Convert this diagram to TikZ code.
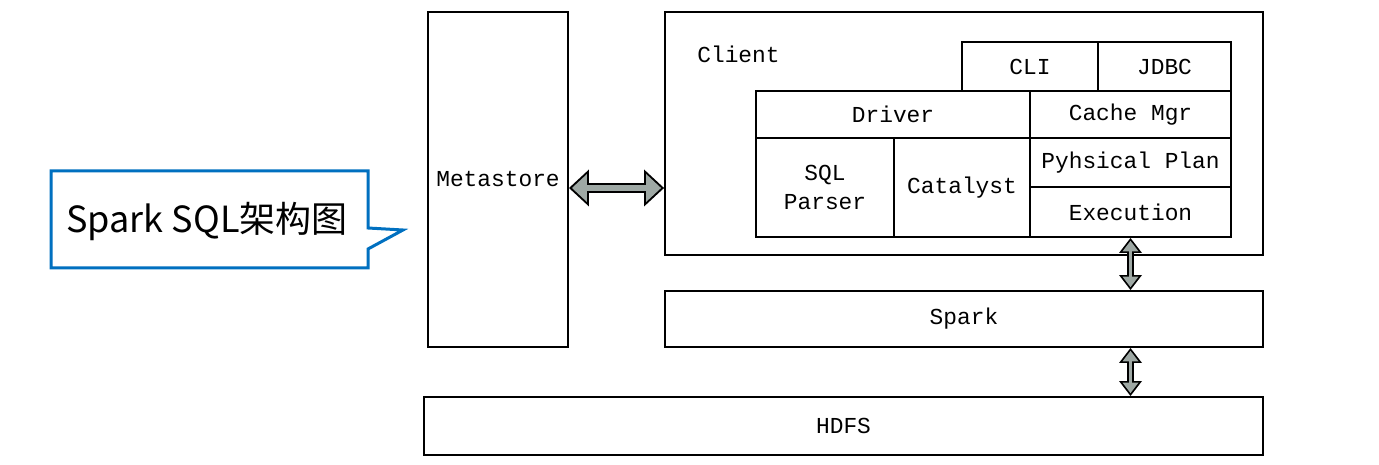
\documentclass[tikz,border=0pt]{standalone}
\usepackage{fontspec}
\setmonofont{Liberation Mono}
\newfontfamily\cjkfont{Noto Sans CJK SC}
\usetikzlibrary{arrows.meta}
\definecolor{calloutblue}{RGB}{0,112,192}
\definecolor{arrowgray}{RGB}{158,168,164}

\begin{document}
\begin{tikzpicture}[x=0.02cm, y=-0.02cm]
\tikzset{ box/.style={draw, line width=0.04cm, inner sep=0pt, align=center,
                      font=\ttfamily\fontsize{13pt}{16pt}\selectfont},
          bigarrow/.style={draw=black, line width=0.19cm,
                      {Triangle[width=0.74cm,length=0.4cm,line width=0pt]}-{Triangle[width=0.74cm,length=0.4cm,line width=0pt]},
                      postaction={draw=arrowgray, line width=0.11cm, shorten <=0.06cm, shorten >=0.06cm,
                      {Triangle[width=0.56cm,length=0.3cm,line width=0pt]}-{Triangle[width=0.56cm,length=0.3cm,line width=0pt]}}},
          smallarrow/.style={draw=black, line width=0.14cm,
                      {Triangle[width=0.46cm,length=0.3cm,line width=0pt]}-{Triangle[width=0.46cm,length=0.3cm,line width=0pt]},
                      postaction={draw=arrowgray, line width=0.07cm, shorten <=0.058cm, shorten >=0.058cm,
                      {Triangle[width=0.32cm,length=0.21cm,line width=0pt]}-{Triangle[width=0.32cm,length=0.21cm,line width=0pt]}}},
}

\useasboundingbox (0,0) rectangle (1379,465);

% metastore
\node [box, minimum width=2.8cm, minimum height=6.7cm] (meta) at (498,179.5) {Metastore};

% cliente
\node [box, minimum width=11.96cm, minimum height=4.86cm] (client) at (964,133.5) {};
\node [anchor=west, inner sep=0pt, font=\ttfamily\fontsize{13pt}{16pt}\selectfont] (clientlbl) at (697,54) {Client};

\node [box, minimum width=2.72cm, minimum height=0.98cm] (cli)      at (1030,66.5)    {CLI};
\node [box, minimum width=2.66cm, minimum height=0.98cm] (jdbc)     at (1164.5,66.5)  {JDBC};
\node [box, minimum width=5.48cm, minimum height=0.94cm] (driver)   at (893,114.5)    {Driver};
\node [box, minimum width=4.02cm, minimum height=0.94cm] (cache)    at (1130.5,114.5) {Cache Mgr};
\node [box, minimum width=2.76cm, minimum height=1.98cm] (parser)   at (825,187.5)    {SQL\\Parser};
\node [box, minimum width=2.72cm, minimum height=1.98cm] (catalyst) at (962,187.5)    {Catalyst};
\node [box, minimum width=4.02cm, minimum height=0.98cm] (plan)     at (1130.5,162.5) {Pyhsical Plan};
\node [box, minimum width=4.02cm, minimum height=1.0cm]  (exec)     at (1130.5,212)   {Execution};

% spark / hdfs
\node [box, minimum width=11.96cm, minimum height=1.12cm] (spark) at (964,319)   {Spark};
\node [box, minimum width=16.78cm, minimum height=1.16cm] (hdfs)  at (843.5,426) {HDFS};

% setas
\draw [bigarrow]   (meta.east |- 0,188) -- (client.west |- 0,188);
\draw [smallarrow] (exec.south) -- (exec.south |- spark.north);
\draw [smallarrow] (exec.south |- spark.south) -- (exec.south |- hdfs.north);

% legenda
\draw [calloutblue, line width=0.06cm, fill=white] (51,171) -- (368,171) -- (368,228) -- (403,230)
      -- (368,249) -- (368,268) -- (51,268) -- cycle;
\node [inner sep=0pt, font=\cjkfont\fontsize{20.5pt}{25pt}\selectfont] (title) at (207,222) {Spark SQL架构图};

\end{tikzpicture}
\end{document}
